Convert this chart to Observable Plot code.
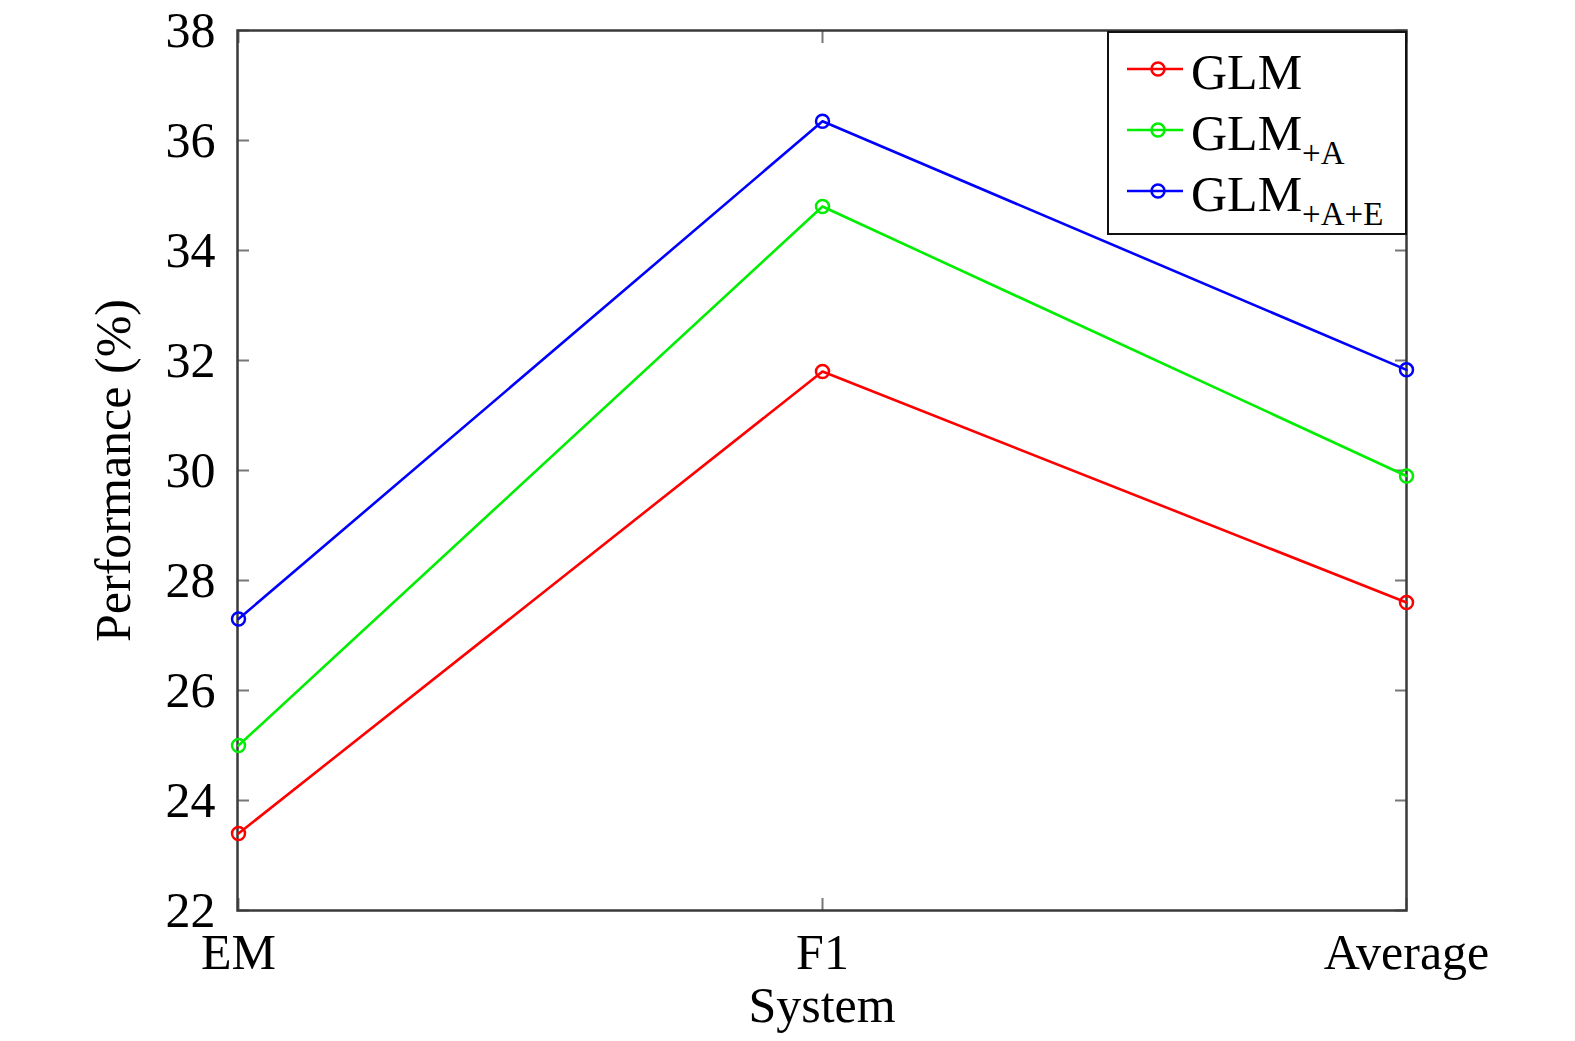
<!DOCTYPE html>
<html>
<head>
<meta charset="utf-8">
<script src="https://cdn.jsdelivr.net/npm/d3@7"></script>
<script src="https://cdn.jsdelivr.net/npm/@observablehq/plot@0.6"></script>
<style>
  html, body { margin: 0; padding: 0; background: #fff; overflow: hidden; }
  #wrap { position: relative; width: 1575px; height: 1041px; overflow: hidden; font-family: "Liberation Serif", "Times New Roman", serif; }
  #wrap > svg { display: block; }
  #legend { position: absolute; left: 1107px; top: 31px; width: 300px; height: 204px; border: 2px solid #111; box-sizing: border-box; background: #fff; }
  .row { position: absolute; left: 0; height: 60px; }
  .row svg { position: absolute; left: 18px; }
  .lbl { position: absolute; left: 82px; font-size: 50px; line-height: 1; white-space: nowrap; color: #000; }
  .lbl sub { font-size: 33px; vertical-align: baseline; position: relative; top: 14px; }
</style>
</head>
<body>
<div id="wrap"></div>
<script>
const categories = ["EM", "F1", "Average"];
const seriesNames = ["GLM", "GLM+A", "GLM+A+E"];
const seriesColors = ["#ff0000", "#00ee00", "#0000ff"];
const glm = [23.4, 31.8, 27.6];
const glmA = [25.0, 34.8, 29.9];
const glmAE = [27.3, 36.35, 31.83];
const yTicks = [22, 24, 26, 28, 30, 32, 34, 36, 38];

const allSeries = [glm, glmA, glmAE];
const data = [];
allSeries.forEach((vals, si) => {
  vals.forEach((v, ci) => data.push({series: seriesNames[si], cat: categories[ci], value: v}));
});

const font = "Liberation Serif";
const chart = Plot.plot({
  width: 1575,
  height: 1041,
  marginLeft: 237,
  marginRight: 169,
  marginTop: 30,
  marginBottom: 131,
  style: {fontFamily: font, fontSize: "50px", background: "#fff", color: "#000"},
  x: {type: "point", domain: categories, padding: 0, label: null},
  y: {domain: [22, 38], label: null},
  color: {domain: seriesNames, range: seriesColors},
  marks: [
    // inward ticks
    Plot.axisY({anchor: "left", ticks: yTicks, tickSize: -12, tickFormat: () => "", stroke: "#777", strokeWidth: 2, label: null}),
    Plot.axisY({anchor: "right", ticks: yTicks, tickSize: -12, tickFormat: () => "", stroke: "#777", strokeWidth: 2, label: null}),
    Plot.axisX({anchor: "bottom", tickSize: -12, tickFormat: () => "", stroke: "#777", strokeWidth: 2, label: null}),
    Plot.axisX({anchor: "top", tickSize: -12, tickFormat: () => "", stroke: "#777", strokeWidth: 2, label: null}),
    // labels
    Plot.axisY({anchor: "left", ticks: yTicks, tickSize: 0, tickPadding: 22, fontSize: 50, fill: "#000", label: null}),
    Plot.axisX({anchor: "bottom", tickSize: 0, tickPadding: 23, fontSize: 50, fill: "#000", label: null}),
    Plot.frame({stroke: "#3a3a3a", strokeWidth: 2.5}),
    Plot.line(data, {x: "cat", y: "value", z: "series", stroke: "series", strokeWidth: 2.6}),
    Plot.dot(data, {x: "cat", y: "value", stroke: "series", r: 6.5, strokeWidth: 2.5, fill: "none"}),
    Plot.text(["Performance (%)"], {frameAnchor: "left", rotate: -90, dx: -124, fontSize: 50, fill: "#000", lineAnchor: "middle", textAnchor: "middle"}),
    Plot.text(["System"], {frameAnchor: "bottom", dy: 95, fontSize: 50, fill: "#000", lineAnchor: "middle", textAnchor: "middle"})
  ]
});

const wrap = document.getElementById("wrap");
wrap.appendChild(chart);

// legend
const legend = document.createElement("div");
legend.id = "legend";
const labelsHTML = ["GLM", "GLM<sub>+A</sub>", "GLM<sub>+A+E</sub>"];
const rowTops = [4, 65, 126];
seriesNames.forEach((name, i) => {
  const row = document.createElement("div");
  row.className = "row";
  row.style.top = rowTops[i] + "px";
  row.style.width = "100%";
  const c = seriesColors[i];
  row.innerHTML = `<svg width="56" height="20" viewBox="0 0 56 20" style="top:22px"><line x1="0" y1="10" x2="56" y2="10" stroke="${c}" stroke-width="2.6"/><circle cx="31" cy="10" r="6.5" fill="none" stroke="${c}" stroke-width="2.5"/></svg><span class="lbl" style="top:10px">${labelsHTML[i]}</span>`;
  legend.appendChild(row);
});
wrap.appendChild(legend);
</script>
</body>
</html>
